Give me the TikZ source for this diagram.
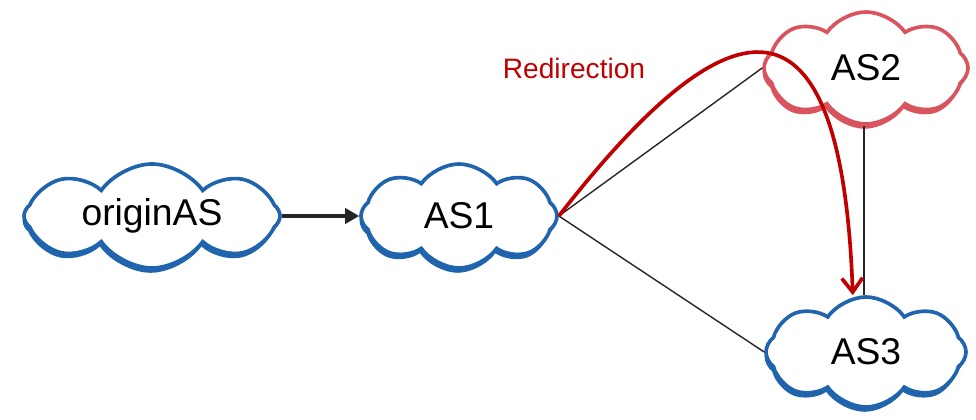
\documentclass[tikz,border=0pt]{standalone}
\usepackage{fontspec}
\setmainfont{Liberation Sans}
\usetikzlibrary{shapes.symbols,shadows,arrows.meta}
\definecolor{asblue}{HTML}{1F64AD}
\definecolor{aspink}{HTML}{D9545E}
\definecolor{redir}{HTML}{C00000}

\begin{document}
\begin{tikzpicture}[x=0.025cm,y=-0.025cm,
        as/.style={cloud,cloud puffs=8,cloud puff arc=110,cloud ignores aspect,
            draw=#1,line width=2.6pt,fill=white,inner sep=0pt,
            general shadow={fill=#1,shadow xshift=-1pt,shadow yshift=-3.4pt},
            font=\fontsize{26.5}{30}\selectfont},
        as/.default=asblue,
        link/.style={line width=1pt,color=black!85}]
	\useasboundingbox (0,0) rectangle (976,420);

	\node[as,minimum width=6.4cm,minimum height=2.6cm] (origin) at (152,216) {originAS};
	\node[as,minimum width=4.9cm,minimum height=2.6cm] (as1) at (459,216) {AS1};
	\node[as=aspink,minimum width=5.1cm,minimum height=2.8cm] (as2) at (866,68) {AS2};
	\node[as,minimum width=5cm,minimum height=2.75cm] (as3) at (866,352) {AS3};

	\node[redir,font=\fontsize{20}{24}\selectfont] (redlabel) at (574,68) {Redirection};

	\draw[line width=2.2pt,color=black!85,-{Triangle[length=3.5mm,width=3.8mm]}] (origin.east) -- (as1.west);

	\draw[link] (as1.east) -- (as2.west);
	\draw[link] (as1.east) -- (as3.west);
	\draw[link] ([xshift=-0.5mm]as2.south) -- ([xshift=-0.5mm]as3.north);

	\draw[redir,line width=2.6pt,-{Straight Barb[length=3.5mm,width=5.2mm]}]
		(as1.east) .. controls +(158,-203) and +(-12,-338) .. ([xshift=-3.3mm]as3.north);
\end{tikzpicture}
\end{document}
